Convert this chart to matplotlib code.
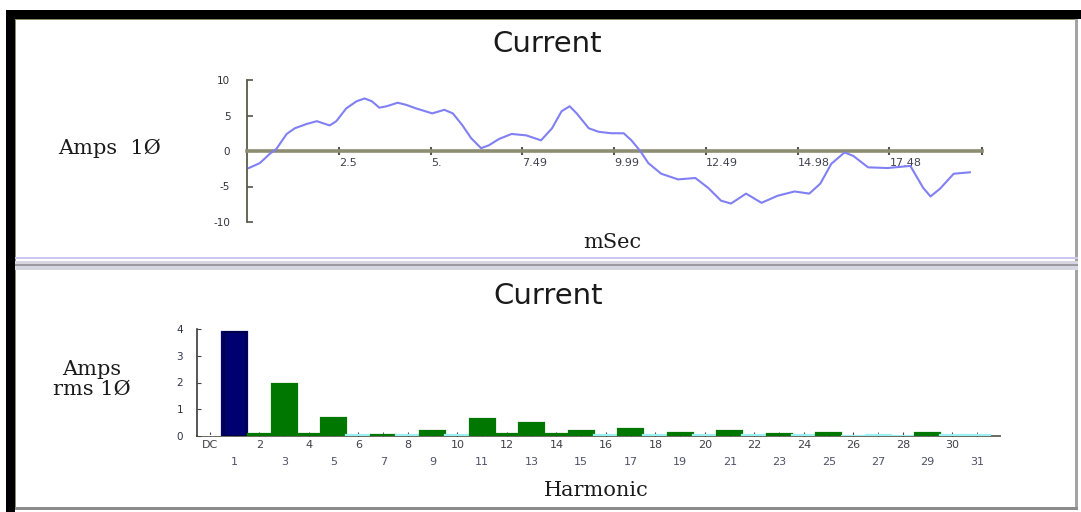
import matplotlib
matplotlib.use("Agg")
import matplotlib.pyplot as plt
from matplotlib.patches import Rectangle

# --- waveform samples (one cycle of phase current) ---
t_ms = [0.05, 0.35, 0.62, 0.8, 1.08, 1.3, 1.62, 1.9, 2.25, 2.43, 2.7, 2.98, 3.2, 3.4,
        3.6, 3.8, 4.1, 4.33, 4.6, 5.04, 5.37, 5.6, 5.85, 6.1, 6.37, 6.58, 6.86, 7.2,
        7.6, 8.0, 8.3, 8.56, 8.78, 8.97, 9.3, 9.57, 9.92, 10.25, 10.46, 10.7, 10.92,
        11.27, 11.73, 12.2, 12.55, 12.9, 13.17, 13.58, 14.0, 14.44, 14.9, 15.3, 15.6,
        15.9, 16.26, 16.5, 16.9, 17.43, 18.05, 18.4, 18.6, 18.86, 19.23, 19.67]
amps = [-2.4, -1.7, -0.4, 0.3, 2.4, 3.2, 3.8, 4.2, 3.6, 4.2, 6.0, 7.0, 7.4, 7.0,
        6.1, 6.3, 6.8, 6.5, 6.0, 5.3, 5.8, 5.3, 3.7, 1.8, 0.4, 0.8, 1.7, 2.4,
        2.2, 1.5, 3.2, 5.6, 6.3, 5.3, 3.2, 2.7, 2.5, 2.5, 1.5, 0.0, -1.7,
        -3.2, -4.0, -3.8, -5.2, -7.0, -7.4, -6.0, -7.3, -6.3, -5.7, -6.0, -4.6,
        -1.8, -0.2, -0.7, -2.3, -2.4, -2.1, -5.2, -6.4, -5.3, -3.2, -3.0]

time_ticks = [2.5, 5.0, 7.49, 9.99, 12.49, 14.98, 17.48, 20.0]
time_labels = ["2.5", "5.", "7.49", "9.99", "12.49", "14.98", "17.48", ""]
amp_ticks = [-10, -5, 0, 5, 10]

# --- harmonic spectrum (DC, 1..31) ---
harm_labels = ["DC"] + [str(n) for n in range(1, 32)]
harm_rms = [0.0, 3.9, 0.08, 1.95, 0.08, 0.68, 0.03, 0.05, 0.03, 0.2, 0.04,
            0.62, 0.06, 0.48, 0.07, 0.18, 0.04, 0.27, 0.04, 0.1, 0.03,
            0.2, 0.04, 0.09, 0.04, 0.1, 0.01, 0.04, 0.01, 0.1, 0.04, 0.04]
harm_colors = ["white", "#000070"] + ["#007800" if v >= 0.05 else "#9cf2f2"
                                      for v in harm_rms[2:]]
rms_ticks = [0, 1, 2, 3, 4]

W, H = 1081, 512
fig = plt.figure(figsize=(W / 100, H / 100), dpi=100)
fig.patch.set_facecolor("white")


def rect(x0, y0, x1, y1):
    return [x0 / W, 1 - y1 / H, (x1 - x0) / W, (y1 - y0) / H]


def box(x0, y0, x1, y1, color):
    fig.patches.append(Rectangle((x0 / W, 1 - y1 / H), (x1 - x0) / W, (y1 - y0) / H,
                                 transform=fig.transFigure, facecolor=color,
                                 edgecolor="none", zorder=0))


# window frame
box(6, 10, W, 19, "black")
box(6, 10, 15, H, "black")
box(15, 19, 1077, 20, "#8a8a66")
box(15, 19, 16, 510, "#8a8a66")
box(1075, 19, 1078, 510, "#a4a4a4")
box(15, 257, 1078, 259, "#c8c8f0")
box(15, 261, 1078, 270, "#d6d6e0")
box(15, 264, 1078, 266, "#9a9aa0")
box(15, 507, 1078, 510, "#8c8c8c")

serif = "DejaVu Serif"
sans = "DejaVu Sans"
narrow = ["Liberation Sans Narrow", "DejaVu Sans"]

# ---- top: time waveform ----
ax1 = fig.add_axes(rect(247, 80, 982, 222))
ax1.plot(t_ms, amps, color="#8080f4", lw=1.5, zorder=3)
ax1.set_xlim(0, 20)
ax1.set_ylim(-10, 10)
for s in ("top", "right"):
    ax1.spines[s].set_visible(False)
ax1.spines["bottom"].set_position(("data", 0))
ax1.spines["bottom"].set_color("#8d8d72")
ax1.spines["bottom"].set_linewidth(2.6)
ax1.spines["left"].set_color("#5a5a48")
ax1.spines["left"].set_linewidth(1.3)
ax1.set_xticks(time_ticks, time_labels)
ax1.set_yticks(amp_ticks, [str(v) for v in amp_ticks])
ax1.tick_params(axis="x", direction="inout", length=6, width=1.5, color="#55554a",
                pad=2, labelsize=8, labelcolor="#404050")
ax1.tick_params(axis="y", direction="in", length=4, width=1.2, color="#55554a",
                pad=12, labelsize=7.5, labelcolor="#303040")
for lbl in ax1.get_xticklabels():
    lbl.set_horizontalalignment("left")
    lbl.set_family(narrow)
for lbl in ax1.get_yticklabels():
    lbl.set_family(narrow)
ax1.patch.set_alpha(0)

fig.text(547 / W, 1 - 44 / H, "Current", ha="center", va="center", fontsize=21,
         family=sans, color="#1a1a1a")
fig.text(110 / W, 1 - 148 / H, "Amps  1Ø", ha="center", va="center", fontsize=15,
         family=serif, color="#1a1a1a")
fig.text(612 / W, 1 - 242 / H, "mSec", ha="center", va="center", fontsize=15,
         family=serif, color="#1a1a1a")

# ---- bottom: harmonic bars ----
pos = list(range(len(harm_labels)))
ax2 = fig.add_axes(rect(197, 329, 1000, 436))
ax2.bar(pos, harm_rms, width=1.0, color=harm_colors, edgecolor=harm_colors,
        linewidth=1.6, zorder=2)
ax2.bar(pos[1], harm_rms[1], width=0.9, color="none", edgecolor="#000040",
        linewidth=1.2, zorder=3)
ax2.set_xlim(-0.525, 31.92)
ax2.set_ylim(0, 4)
for s in ("top", "right"):
    ax2.spines[s].set_visible(False)
ax2.spines["left"].set_color("#3a3a3a")
ax2.spines["left"].set_linewidth(1.2)
ax2.spines["bottom"].set_color("#6a6a60")
ax2.spines["bottom"].set_linewidth(1.4)
ax2.spines["bottom"].set_zorder(1)
ax2.set_xticks(pos[0::2], harm_labels[0::2])
ax2.set_xticks(pos[1::2], harm_labels[1::2], minor=True)
ax2.tick_params(axis="x", which="major", direction="in", length=3, color="#444444",
                pad=3, labelsize=8, labelcolor="#404048")
ax2.tick_params(axis="x", which="minor", direction="in", length=3, color="#444444",
                pad=15, labelsize=8, labelcolor="#50506a")
ax2.set_yticks(rms_ticks, [str(v) for v in rms_ticks])
ax2.tick_params(axis="y", direction="in", length=3, color="#444444", pad=10,
                labelsize=7.5, labelcolor="#303048")
for lbl in ax2.get_xticklabels() + ax2.get_xticklabels(minor=True) + ax2.get_yticklabels():
    lbl.set_family(narrow)
ax2.patch.set_alpha(0)

fig.text(548 / W, 1 - 296 / H, "Current", ha="center", va="center", fontsize=21,
         family=sans, color="#1a1a1a")
fig.text(92 / W, 1 - 379 / H, "Amps\nrms 1Ø", ha="center", va="center", fontsize=15,
         family=serif, color="#1a1a1a", linespacing=1.05)
fig.text(596 / W, 1 - 491 / H, "Harmonic", ha="center", va="center", fontsize=15,
         family=serif, color="#1a1a1a")

fig.savefig("out.png", dpi=100)
